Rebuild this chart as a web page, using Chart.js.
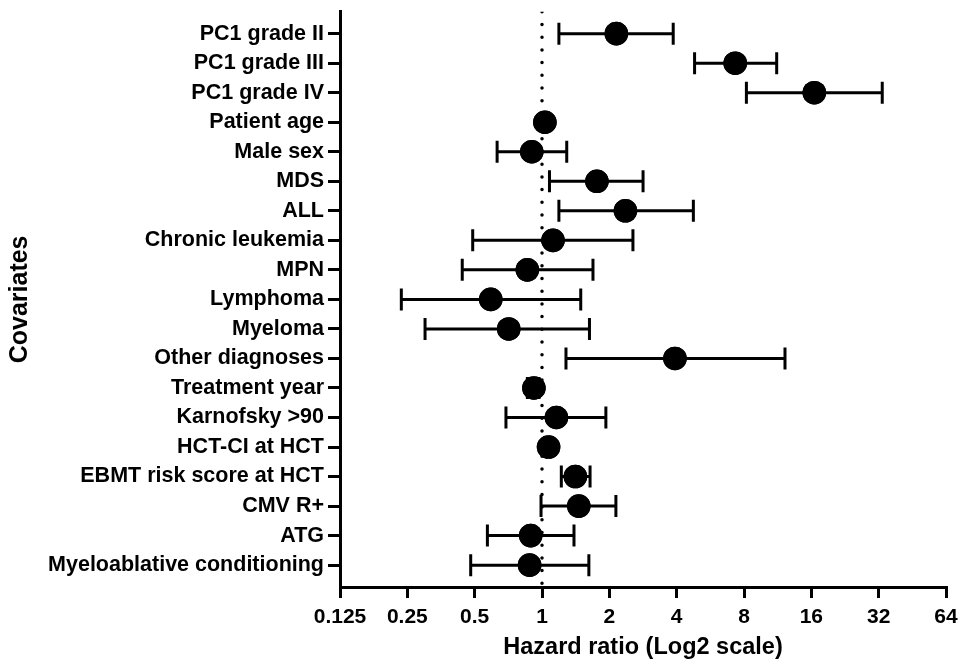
<!DOCTYPE html>
<html>
<head>
<meta charset="utf-8">
<script src="https://cdn.jsdelivr.net/npm/chart.js@4.4.1/dist/chart.umd.min.js"></script>
<style>
  html, body { margin: 0; padding: 0; background: #fff; }
  #wrap { width: 961px; height: 665px; position: relative; }
</style>
</head>
<body>
<div id="wrap"><canvas id="c" width="961" height="665"></canvas></div>
<script>
const covariates = ['PC1 grade II','PC1 grade III','PC1 grade IV','Patient age','Male sex','MDS','ALL','Chronic leukemia','MPN','Lymphoma','Myeloma','Other diagnoses','Treatment year','Karnofsky >90','HCT-CI at HCT','EBMT risk score at HCT','CMV R+','ATG','Myeloablative conditioning'];
const hazardRatio = [2.15, 7.31, 16.5, 1.03, 0.90, 1.76, 2.36, 1.12, 0.86, 0.59, 0.71, 3.93, 0.92, 1.16, 1.07, 1.41, 1.46, 0.89, 0.88];
const ciLower = [1.19, 4.81, 8.2, 1.01, 0.63, 1.08, 1.19, 0.49, 0.44, 0.235, 0.30, 1.28, 0.86, 0.69, 1.03, 1.22, 0.99, 0.57, 0.48];
const ciUpper = [3.86, 11.2, 33.2, 1.05, 1.29, 2.83, 4.75, 2.55, 1.69, 1.49, 1.63, 12.2, 0.97, 1.93, 1.11, 1.64, 2.14, 1.39, 1.62];
const xTicks = [0.125, 0.25, 0.5, 1, 2, 4, 8, 16, 32, 64];
const xTickLabels = ['0.125','0.25','0.5','1','2','4','8','16','32','64'];
const referenceValue = 1;

const FONT = "'Liberation Sans', Arial, sans-serif";
const yPad = 0.74;
const yMin = -yPad, yMax = covariates.length - 1 + yPad;

const whiskerPlugin = {
  id: 'whiskers',
  afterDatasetsDraw(chart) {
    const meta = chart.getDatasetMeta(1);
    const xs = chart.scales.x, ys = chart.scales.y;
    const ctx = chart.ctx;
    ctx.save();
    ctx.strokeStyle = '#000';
    ctx.lineWidth = 3;
    ctx.lineCap = 'butt';
    for (let i = 0; i < covariates.length; i++) {
      const y = ys.getPixelForValue(i);
      const x1 = xs.getPixelForValue(ciLower[i]);
      const x2 = xs.getPixelForValue(ciUpper[i]);
      ctx.beginPath();
      ctx.moveTo(x1, y); ctx.lineTo(x2, y);
      ctx.moveTo(x1, y - 11); ctx.lineTo(x1, y + 11);
      ctx.moveTo(x2, y - 11); ctx.lineTo(x2, y + 11);
      ctx.stroke();
    }
    ctx.restore();
    // redraw points on top of whiskers
    meta.controller.draw();
  }
};

new Chart(document.getElementById('c'), {
  type: 'scatter',
  data: {
    datasets: [
      {
        type: 'line',
        data: [{x: referenceValue, y: yMin}, {x: referenceValue, y: yMax}],
        borderColor: '#000',
        borderWidth: 3.5,
        borderDash: [0, 12.7],
        borderCapStyle: 'round',
        pointRadius: 0,
        fill: false,
        order: 2
      },
      {
        data: hazardRatio.map((v, i) => ({x: v, y: i})),
        backgroundColor: '#000',
        borderColor: '#000',
        pointRadius: 11.8,
        pointHoverRadius: 11.8,
        borderWidth: 0,
        order: 1
      }
    ]
  },
  plugins: [whiskerPlugin],
  options: {
    responsive: false,
    animation: false,
    events: [],
    layout: { padding: { left: 0, right: 15, top: 11, bottom: 0 } },
    plugins: { legend: { display: false }, tooltip: { enabled: false } },
    scales: {
      x: {
        type: 'logarithmic',
        min: 0.125,
        max: 64,
        afterBuildTicks(scale) { scale.ticks = xTicks.map(v => ({value: v})); },
        afterFit(scale) { scale.height = 78; scale.paddingLeft = 0; scale.paddingRight = 0; },
        border: { display: true, color: '#000', width: 3 },
        grid: { drawOnChartArea: false, drawTicks: true, tickLength: 11, lineWidth: 3, color: '#000' },
        ticks: {
          autoSkip: false, maxRotation: 0, minRotation: 0, padding: 7,
          color: '#000', font: { family: FONT, size: 21, weight: 'bold' },
          callback(value) { const k = xTicks.indexOf(value); return k >= 0 ? xTickLabels[k] : ''; }
        },
        title: {
          display: true, text: 'Hazard ratio (Log2 scale)', color: '#000',
          font: { family: FONT, size: 23.5, weight: 'bold' },
          padding: { top: 0, bottom: 3 }
        }
      },
      y: {
        type: 'linear',
        reverse: true,
        min: yMin,
        max: yMax,
        afterBuildTicks(scale) { scale.ticks = covariates.map((_, i) => ({value: i})); },
        afterFit(scale) { scale.width = 340; scale.paddingTop = 0; scale.paddingBottom = 0; },
        border: { display: true, color: '#000', width: 3 },
        grid: { drawOnChartArea: false, drawTicks: true, tickLength: 12, lineWidth: 3, color: '#000' },
        ticks: {
          autoSkip: false, padding: 4,
          color: '#000', font: { family: FONT, size: 21.5, weight: 'bold' },
          callback(value) { return Number.isInteger(value) ? covariates[value] : ''; }
        },
        title: {
          display: true, text: 'Covariates', color: '#000',
          font: { family: FONT, size: 25, weight: 'bold' },
          padding: { top: 5, bottom: 0 }
        }
      }
    }
  }
});
</script>
</body>
</html>
